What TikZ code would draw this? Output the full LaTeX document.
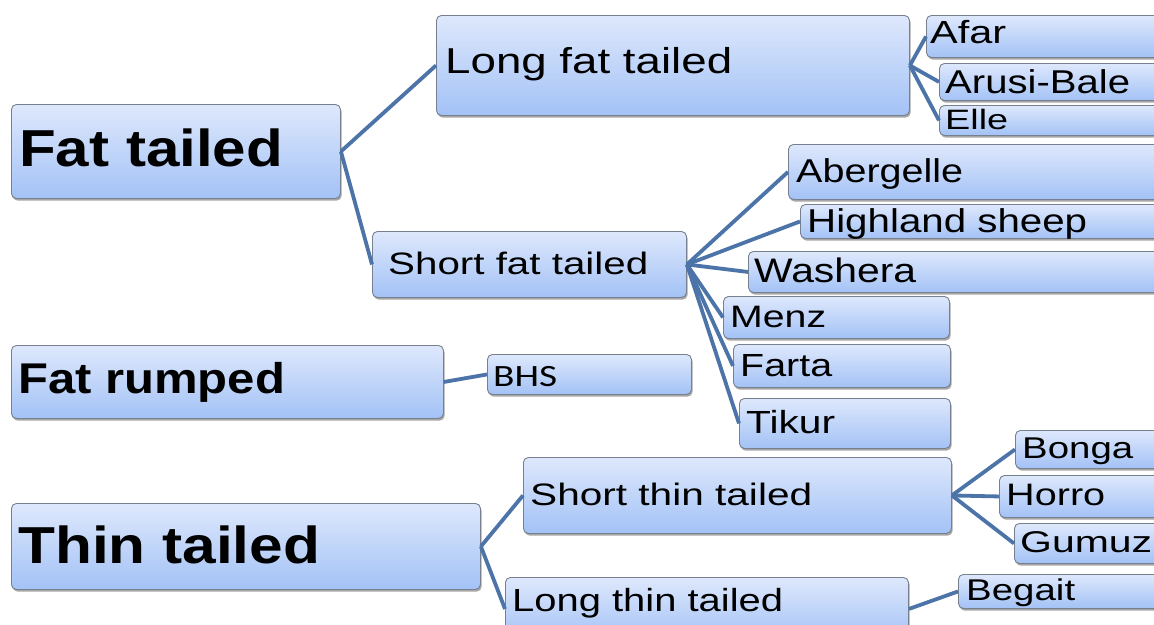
\documentclass[tikz,border=0pt]{standalone}
\usepackage{fontspec}
\usepackage{graphicx}
\setmainfont{Liberation Sans}
\newfontfamily\calfont{Carlito}
\usetikzlibrary{shadows}
\definecolor{boxtop}{RGB}{222,232,252}
\definecolor{boxbot}{RGB}{163,194,246}
\definecolor{boxedge}{RGB}{118,128,142}
\definecolor{linkcol}{RGB}{76,116,168}
\newcommand{\tx}[3]{\resizebox{#1pt}{\height}{\fontsize{#2pt}{#2pt}\selectfont #3}}
\tikzset{
  box/.style={draw=boxedge, line width=0.9pt, rounded corners=5pt, top color=boxtop, bottom color=boxbot,
    anchor=north west, inner sep=0pt,
    drop shadow={shadow xshift=1.2pt, shadow yshift=-2.2pt, fill=black, opacity=0.35}},
  lbl/.style={anchor=base west, inner sep=0pt, text=black},
  link/.style={draw=linkcol, line width=3.8pt}
}
\newcommand{\bx}[5]{\node[box, minimum width=#4pt-#2pt, minimum height=#5pt-#3pt] (#1) at (#2,#3) {};}
\begin{document}
\begin{tikzpicture}[x=1pt,y=-1pt]
\useasboundingbox (0,0) rectangle (1154,624);
\clip (0,0) rectangle (1154,624);
\fill[white] (0,0) rectangle (1154,624);
% boxes
\bx{fat}{11}{104}{340}{198}
\bx{longfat}{436}{15}{909}{115}
\bx{afar}{926}{15}{1170}{57}
\bx{arusi}{939}{63}{1170}{100}
\bx{elle}{939}{105}{1170}{135}
\bx{shortfat}{372}{231}{686}{297}
\bx{aberg}{788}{144}{1170}{199}
\bx{high}{800}{204}{1170}{238}
\bx{wash}{748}{251}{1170}{292}
\bx{menz}{723}{296}{949}{338}
\bx{farta}{733}{344}{950}{387}
\bx{tikur}{739}{398}{950}{448}
\bx{fatr}{11}{345}{443}{418}
\bx{bhs}{487}{354}{691}{394}
\bx{thin}{11}{503}{480}{589}
\bx{shortthin}{523}{457}{951}{533}
\bx{longthin}{505}{577}{908}{640}
\bx{bonga}{1015}{430}{1170}{468}
\bx{horro}{999}{475}{1170}{517}
\bx{gumuz}{1014}{523}{1170}{563}
\bx{begait}{958}{574}{1170}{608}
% labels
\node[lbl] (t-fat) at (19,166) {\tx{264}{52}{\bfseries Fat tailed}};
\node[lbl] (t-longfat) at (445,73) {\tx{287}{36}{Long fat tailed}};
\node[lbl] (t-afar) at (930,43) {\tx{76}{32}{Afar}};
\node[lbl] (t-arusi) at (945,93) {\tx{185}{33}{Arusi-Bale}};
\node[lbl] (t-elle) at (945,129) {\tx{63}{28}{Elle}};
\node[lbl] (t-shortfat) at (388,274) {\tx{260}{31}{Short fat tailed}};
\node[lbl] (t-aberg) at (796,182) {\tx{167}{33}{Abergelle}};
\node[lbl] (t-high) at (807,232) {\tx{280}{33}{Highland sheep}};
\node[lbl] (t-wash) at (754,282) {\tx{162}{34}{Washera}};
\node[lbl] (t-menz) at (730,327) {\tx{96}{31}{Menz}};
\node[lbl] (t-farta) at (740,376) {\tx{92}{32}{Farta}};
\node[lbl] (t-tikur) at (746,433) {\tx{89}{32}{Tikur}};
\node[lbl] (t-fatr) at (18,393) {\tx{267}{43}{\bfseries Fat rumped}};
\node[lbl] (t-bhs) at (493,386) {\tx{64}{31}{\calfont BHS}};
\node[lbl] (t-thin) at (18,563) {\tx{302}{52}{\bfseries Thin tailed}};
\node[lbl] (t-shortthin) at (530,505) {\tx{282}{31}{Short thin tailed}};
\node[lbl] (t-longthin) at (512,611) {\tx{271}{32}{Long thin tailed}};
\node[lbl] (t-bonga) at (1022,458) {\tx{111}{30}{Bonga}};
\node[lbl] (t-horro) at (1006,505) {\tx{99}{31}{Horro}};
\node[lbl] (t-gumuz) at (1020,552) {\tx{132}{30}{Gumuz}};
\node[lbl] (t-begait) at (966,600) {\tx{109}{30}{Begait}};
% connectors
\draw[link] (fat.east) -- (longfat.west);
\draw[link] (fat.east) -- (shortfat.west);
\draw[link] (longfat.east) -- (afar.west);
\draw[link] (longfat.east) -- (arusi.west);
\draw[link] (longfat.east) -- (elle.west);
\foreach \t in {aberg,high,wash,menz,farta,tikur}
  \draw[link] (shortfat.east) -- (\t.west);
\draw[link] (fatr.east) -- (bhs.west);
\draw[link] (thin.east) -- (shortthin.west);
\draw[link] (thin.east) -- (longthin.west);
\foreach \t in {bonga,horro,gumuz}
  \draw[link] (shortthin.east) -- (\t.west);
\draw[link] (longthin.east) -- (begait.west);
\end{tikzpicture}
\end{document}
